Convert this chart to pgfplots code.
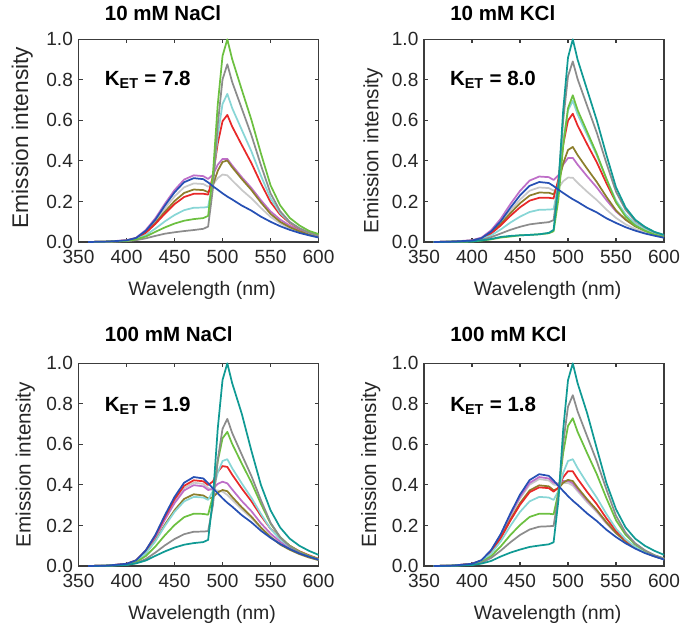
\documentclass[border=0pt]{standalone}
\usepackage{pgfplots}
\usepackage{pgfplotstable}
\pgfplotsset{compat=1.18}
\usepackage{fontspec}
\setmainfont{Liberation Sans}

\definecolor{cblue}{RGB}{38,80,180}
\definecolor{cmag}{RGB}{190,110,200}
\definecolor{clg}{RGB}{200,200,200}
\definecolor{coli}{RGB}{140,126,44}
\definecolor{cred}{RGB}{232,40,40}
\definecolor{ccyan}{RGB}{136,214,214}
\definecolor{cgreen}{RGB}{108,192,64}
\definecolor{cgray}{RGB}{140,140,140}
\definecolor{cteal}{RGB}{16,154,148}
\definecolor{axgray}{RGB}{60,60,60}

% panel 1: 10 mM NaCl
\pgfplotstableread{
x   blue  mag   lg    oli   red   cyan  green gray
360 0     0     0     0     0     0     0     0
380 0.002 0.002 0.002 0.002 0.002 0.002 0.002 0.001
400 0.008 0.009 0.007 0.007 0.007 0.006 0.005 0.004
410 0.020 0.021 0.019 0.018 0.018 0.014 0.013 0.009
420 0.055 0.059 0.052 0.047 0.045 0.034 0.027 0.018
430 0.110 0.117 0.102 0.093 0.089 0.066 0.050 0.030
440 0.180 0.189 0.166 0.150 0.140 0.102 0.072 0.041
450 0.245 0.256 0.225 0.202 0.187 0.133 0.091 0.048
460 0.295 0.308 0.270 0.242 0.222 0.157 0.105 0.054
470 0.315 0.329 0.289 0.259 0.238 0.169 0.113 0.059
480 0.310 0.325 0.286 0.256 0.238 0.170 0.118 0.065
485 0.294 0.311 0.273 0.246 0.234 0.173 0.129 0.076
490 0.275 0.332 0.284 0.281 0.324 0.302 0.336 0.264
495 0.258 0.381 0.315 0.351 0.486 0.526 0.677 0.579
500 0.240 0.410 0.333 0.395 0.596 0.681 0.918 0.802
505 0.224 0.410 0.329 0.402 0.627 0.731 1.000 0.877
510 0.210 0.378 0.304 0.369 0.570 0.661 0.903 0.790
520 0.180 0.320 0.257 0.311 0.479 0.554 0.752 0.659
530 0.155 0.267 0.216 0.257 0.390 0.448 0.604 0.528
540 0.125 0.206 0.168 0.195 0.289 0.327 0.437 0.379
550 0.100 0.151 0.124 0.139 0.197 0.216 0.280 0.240
560 0.078 0.111 0.092 0.100 0.135 0.143 0.181 0.152
570 0.060 0.081 0.068 0.073 0.094 0.097 0.119 0.099
580 0.045 0.060 0.050 0.053 0.066 0.068 0.082 0.068
590 0.033 0.043 0.036 0.037 0.047 0.046 0.055 0.046
600 0.022 0.029 0.024 0.026 0.031 0.032 0.039 0.032
}\tA

% panel 2: 10 mM KCl
\pgfplotstableread{
x   blue  mag   lg    oli   red   cyan  green gray  teal
360 0     0     0     0     0     0     0     0     0
380 0.002 0.002 0.002 0.002 0.002 0.002 0.001 0.001 0.001
400 0.007 0.009 0.007 0.007 0.006 0.005 0.002 0.005 0.003
410 0.019 0.022 0.018 0.017 0.017 0.014 0.007 0.011 0.008
420 0.052 0.058 0.048 0.046 0.042 0.033 0.013 0.024 0.015
430 0.103 0.115 0.095 0.089 0.082 0.062 0.022 0.042 0.025
440 0.169 0.187 0.155 0.142 0.129 0.096 0.027 0.060 0.030
450 0.230 0.252 0.209 0.191 0.171 0.125 0.033 0.075 0.033
460 0.277 0.303 0.253 0.229 0.204 0.148 0.035 0.087 0.035
470 0.296 0.323 0.269 0.244 0.218 0.159 0.038 0.093 0.038
480 0.291 0.320 0.266 0.243 0.218 0.160 0.043 0.098 0.045
485 0.276 0.306 0.254 0.235 0.215 0.162 0.053 0.108 0.060
490 0.258 0.329 0.267 0.288 0.311 0.286 0.210 0.290 0.280
495 0.242 0.382 0.300 0.388 0.482 0.501 0.474 0.601 0.650
500 0.226 0.414 0.318 0.454 0.599 0.649 0.660 0.818 0.910
505 0.211 0.415 0.317 0.469 0.633 0.697 0.724 0.891 1.000
510 0.198 0.382 0.292 0.429 0.575 0.630 0.651 0.804 0.900
520 0.169 0.324 0.248 0.361 0.482 0.528 0.543 0.671 0.750
530 0.146 0.269 0.207 0.296 0.393 0.427 0.435 0.539 0.600
540 0.117 0.207 0.160 0.223 0.290 0.312 0.312 0.389 0.430
550 0.094 0.151 0.119 0.156 0.196 0.205 0.196 0.248 0.270
560 0.073 0.110 0.087 0.110 0.132 0.136 0.125 0.159 0.170
570 0.056 0.081 0.064 0.077 0.092 0.092 0.081 0.105 0.110
580 0.042 0.059 0.048 0.056 0.065 0.064 0.056 0.073 0.075
590 0.031 0.043 0.034 0.039 0.046 0.044 0.037 0.048 0.050
600 0.021 0.029 0.024 0.027 0.031 0.031 0.026 0.034 0.035
}\tB

% panel 3: 100 mM NaCl
\pgfplotstableread{
x   blue  mag   lg    oli   red   cyan  green gray  teal
360 0     0     0     0     0     0     0     0     0
380 0.002 0.002 0.002 0.002 0.002 0.002 0.002 0.001 0.001
400 0.011 0.010 0.010 0.009 0.011 0.009 0.007 0.006 0.005
410 0.028 0.026 0.026 0.023 0.028 0.023 0.019 0.014 0.013
420 0.077 0.071 0.072 0.063 0.076 0.062 0.049 0.034 0.027
430 0.153 0.140 0.145 0.125 0.150 0.122 0.096 0.066 0.050
440 0.251 0.229 0.236 0.204 0.244 0.198 0.152 0.102 0.072
450 0.341 0.310 0.320 0.275 0.329 0.267 0.202 0.133 0.091
460 0.411 0.373 0.385 0.331 0.396 0.319 0.241 0.157 0.105
470 0.439 0.399 0.411 0.354 0.423 0.341 0.258 0.169 0.113
480 0.432 0.393 0.405 0.348 0.418 0.338 0.257 0.170 0.118
485 0.409 0.375 0.385 0.333 0.400 0.326 0.253 0.172 0.129
490 0.383 0.380 0.374 0.339 0.417 0.370 0.347 0.300 0.336
495 0.359 0.405 0.373 0.363 0.465 0.460 0.516 0.523 0.677
500 0.334 0.416 0.367 0.375 0.493 0.518 0.630 0.677 0.918
505 0.312 0.408 0.351 0.369 0.489 0.527 0.662 0.726 1.000
510 0.293 0.378 0.327 0.341 0.451 0.483 0.603 0.657 0.903
520 0.251 0.321 0.279 0.290 0.383 0.408 0.506 0.550 0.752
530 0.216 0.271 0.237 0.244 0.320 0.337 0.413 0.445 0.570
540 0.174 0.211 0.188 0.190 0.248 0.257 0.307 0.325 0.400
550 0.139 0.160 0.146 0.143 0.184 0.184 0.209 0.214 0.275
560 0.109 0.120 0.111 0.106 0.136 0.132 0.143 0.142 0.190
570 0.084 0.089 0.085 0.080 0.100 0.095 0.100 0.097 0.135
580 0.062 0.066 0.063 0.059 0.073 0.069 0.071 0.068 0.100
590 0.046 0.047 0.046 0.042 0.053 0.049 0.050 0.046 0.075
600 0.031 0.032 0.031 0.029 0.036 0.033 0.034 0.032 0.055
}\tC

% panel 4: 100 mM KCl
\pgfplotstableread{
x   blue  mag   lg    oli   red   cyan  green gray  teal
360 0     0     0     0     0     0     0     0     0
380 0.002 0.002 0.002 0.002 0.002 0.002 0.002 0.001 0.001
400 0.011 0.011 0.011 0.010 0.011 0.009 0.008 0.006 0.005
410 0.029 0.028 0.028 0.026 0.026 0.023 0.019 0.016 0.012
420 0.079 0.077 0.075 0.071 0.069 0.062 0.049 0.040 0.025
430 0.158 0.154 0.150 0.140 0.138 0.122 0.097 0.076 0.047
440 0.259 0.252 0.246 0.229 0.224 0.198 0.153 0.117 0.066
450 0.352 0.341 0.333 0.310 0.302 0.267 0.202 0.153 0.081
460 0.424 0.410 0.401 0.373 0.364 0.319 0.242 0.180 0.094
470 0.453 0.439 0.429 0.398 0.388 0.341 0.258 0.194 0.101
480 0.445 0.432 0.422 0.393 0.384 0.338 0.258 0.196 0.107
485 0.422 0.411 0.402 0.374 0.367 0.326 0.255 0.198 0.117
490 0.395 0.406 0.398 0.382 0.387 0.370 0.364 0.347 0.324
495 0.370 0.419 0.409 0.411 0.438 0.460 0.558 0.606 0.673
500 0.345 0.420 0.410 0.425 0.468 0.518 0.691 0.786 0.917
505 0.322 0.408 0.397 0.419 0.467 0.527 0.729 0.843 1.000
510 0.302 0.378 0.369 0.387 0.430 0.483 0.662 0.763 0.902
520 0.259 0.323 0.314 0.329 0.365 0.408 0.556 0.639 0.753
530 0.222 0.273 0.266 0.276 0.305 0.337 0.453 0.516 0.580
540 0.179 0.214 0.209 0.216 0.235 0.257 0.335 0.378 0.410
550 0.143 0.164 0.161 0.163 0.174 0.184 0.226 0.248 0.280
560 0.112 0.125 0.121 0.121 0.127 0.132 0.154 0.164 0.190
570 0.086 0.094 0.091 0.090 0.095 0.095 0.107 0.112 0.135
580 0.064 0.069 0.067 0.066 0.069 0.069 0.076 0.078 0.100
590 0.047 0.050 0.049 0.048 0.050 0.049 0.053 0.053 0.075
600 0.032 0.034 0.033 0.033 0.034 0.033 0.037 0.037 0.055
}\tD

\tikzset{ket/.style={anchor=base west, font=\bfseries\fontsize{15.4}{18}\selectfont}}

\pgfplotsset{
  spec/.style={
    scale only axis, width=180pt, height=152pt,
    xmin=350, xmax=600, ymin=0, ymax=1,
    xtick={350,400,450,500,550,600},
    ytick={0,0.2,0.4,0.6,0.8,1},
    tick align=inside, tick pos=both,
    major tick length=3pt,
    axis line style={line width=0.8pt, color=axgray},
    every tick/.style={line width=0.8pt, color=axgray},
    /pgf/number format/assume math mode=true,
    yticklabel style={/pgf/number format/fixed, /pgf/number format/fixed zerofill, /pgf/number format/precision=1, xshift=-0.7pt},
    xticklabel style={yshift=-2.8pt},
    tick label style={font=\fontsize{14.3}{16}\selectfont, text=black!85},
    xlabel={Wavelength (nm)},
    ylabel={Emission intensity},
    xlabel style={font=\fontsize{14.6}{17}\selectfont, text=black!85, at={(axis description cs:0.515,-0.266)}, anchor=base},
    title style={font=\bfseries\fontsize{15.4}{18}\selectfont, anchor=base west, at={(axis description cs:0.09,1)}, yshift=8pt},
    clip=false,
    every axis plot/.append style={line width=1.3pt, line join=round, mark=none},
  },
}

\begin{document}
\begin{tikzpicture}
\path[use as bounding box] (0,0) rectangle (511.5pt,468.75pt);

% panel 1
\begin{axis}[spec, at={(58.9pt,287.25pt)}, anchor=south west,
  title={10 mM NaCl},
  ylabel style={font=\fontsize{17}{20}\selectfont, text=black!85, at={(axis description cs:-0.21,0.515)}, anchor=base}]
\addplot[clg]    table[x=x,y=lg]   {\tA};
\addplot[cmag]   table[x=x,y=mag]  {\tA};
\addplot[coli]   table[x=x,y=oli]  {\tA};
\addplot[cred]   table[x=x,y=red]  {\tA};
\addplot[ccyan]  table[x=x,y=cyan] {\tA};
\addplot[cgray]  table[x=x,y=gray] {\tA};
\addplot[cgreen] table[x=x,y=green]{\tA};
\addplot[cblue]  table[x=x,y=blue] {\tA};
\node[ket] at (rel axis cs:0.09,0.773) {K\textsubscript{ET} = 7.8};
\end{axis}

% panel 2
\begin{axis}[spec, at={(318pt,287.25pt)}, anchor=south west,
  title={10 mM KCl},
  ylabel style={font=\fontsize{15.5}{18}\selectfont, text=black!85, at={(axis description cs:-0.19,0.45)}, anchor=base}]
\addplot[clg]    table[x=x,y=lg]   {\tB};
\addplot[cmag]   table[x=x,y=mag]  {\tB};
\addplot[coli]   table[x=x,y=oli]  {\tB};
\addplot[cred]   table[x=x,y=red]  {\tB};
\addplot[ccyan]  table[x=x,y=cyan] {\tB};
\addplot[cgreen] table[x=x,y=green]{\tB};
\addplot[cgray]  table[x=x,y=gray] {\tB};
\addplot[cteal]  table[x=x,y=teal] {\tB};
\addplot[cblue]  table[x=x,y=blue] {\tB};
\node[ket] at (rel axis cs:0.089,0.773) {K\textsubscript{ET} = 8.0};
\end{axis}

% panel 3
\begin{axis}[spec, at={(58.9pt,44.25pt)}, anchor=south west,
  title={100 mM NaCl}, title style={yshift=2pt},
  ylabel style={font=\fontsize{15.5}{18}\selectfont, text=black!85, at={(axis description cs:-0.20,0.5)}, anchor=base}]
\addplot[clg]    table[x=x,y=lg]   {\tC};
\addplot[cmag]   table[x=x,y=mag]  {\tC};
\addplot[coli]   table[x=x,y=oli]  {\tC};
\addplot[cred]   table[x=x,y=red]  {\tC};
\addplot[ccyan]  table[x=x,y=cyan] {\tC};
\addplot[cgreen] table[x=x,y=green]{\tC};
\addplot[cgray]  table[x=x,y=gray] {\tC};
\addplot[cteal]  table[x=x,y=teal] {\tC};
\addplot[cblue]  table[x=x,y=blue] {\tC};
\node[ket] at (rel axis cs:0.09,0.762) {K\textsubscript{ET} = 1.9};
\end{axis}

% panel 4
\begin{axis}[spec, at={(318pt,44.25pt)}, anchor=south west,
  title={100 mM KCl}, title style={yshift=2pt},
  ylabel style={font=\fontsize{15.5}{18}\selectfont, text=black!85, at={(axis description cs:-0.199,0.5)}, anchor=base}]
\addplot[clg]    table[x=x,y=lg]   {\tD};
\addplot[cmag]   table[x=x,y=mag]  {\tD};
\addplot[coli]   table[x=x,y=oli]  {\tD};
\addplot[cred]   table[x=x,y=red]  {\tD};
\addplot[ccyan]  table[x=x,y=cyan] {\tD};
\addplot[cgreen] table[x=x,y=green]{\tD};
\addplot[cgray]  table[x=x,y=gray] {\tD};
\addplot[cteal]  table[x=x,y=teal] {\tD};
\addplot[cblue]  table[x=x,y=blue] {\tD};
\node[ket] at (rel axis cs:0.09,0.762) {K\textsubscript{ET} = 1.8};
\end{axis}
\end{tikzpicture}
\end{document}
